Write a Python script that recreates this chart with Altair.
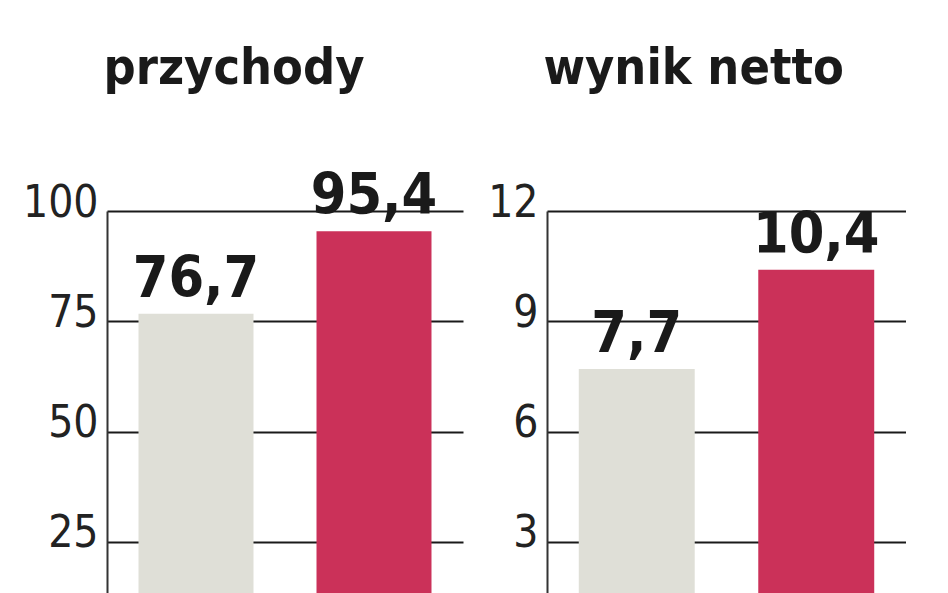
import altair as alt
import pandas as pd

# --- data ---
panel_titles = ["przychody", "wynik netto"]
periods = ["poprzednio", "obecnie"]
przychody = [76.7, 95.4]
wynik_netto = [7.7, 10.4]
ticks_left = [25, 50, 75, 100]
ticks_right = [3, 6, 9, 12]
domain_left = [13.2, 100]
domain_right = [1.58, 12]

GREY = "#dfdfd7"
RED = "#cb3159"
INK = "#1a1a1a"
FONT = "DejaVu Sans Condensed, Liberation Sans Narrow, sans-serif"


def fmt(v):
    return f"{v:.1f}".replace(".", ",")


def panel(title, values, ticks, domain, width):
    df = pd.DataFrame({
        "okres": periods,
        "wartosc": values,
        "etykieta": [fmt(v) for v in values],
    })
    x_axis = alt.Axis(
        orient="top", labels=False, ticks=False, domain=False, grid=False,
        title=title, titleFont=FONT, titleFontSize=50, titleFontWeight="bold",
        titleColor=INK, titleAlign="left", titleBaseline="alphabetic",
        titleX=-4, titleY=-128, titleAnchor="start",
    )
    base = alt.Chart(df).encode(
        x=alt.X("okres:N", sort=periods, axis=x_axis,
                scale=alt.Scale(paddingInner=0.354, paddingOuter=0.177)),
    )
    y_axis = alt.Axis(
        values=ticks, title=None, grid=True, gridColor=INK, gridWidth=2,
        ticks=False, domain=True, domainColor="#333333", domainWidth=2,
        labelFont=FONT, labelFontSize=44, labelColor="#222222",
        labelPadding=9, labelBaseline="alphabetic", labelOffset=5,
    )
    bars = base.mark_bar(clip=True).encode(
        y=alt.Y("wartosc:Q", axis=y_axis,
                scale=alt.Scale(domain=domain, zero=False, nice=False)),
        color=alt.Color("okres:N", legend=None,
                        scale=alt.Scale(domain=periods, range=[GREY, RED])),
    )
    labels = base.mark_text(
        dy=-17, baseline="alphabetic", font=FONT, fontWeight="bold",
        fontSize=57, color=INK,
    ).encode(
        y=alt.Y("wartosc:Q", scale=alt.Scale(domain=domain, zero=False, nice=False)),
        text="etykieta:N",
    )
    return alt.layer(bars, labels).properties(width=width, height=383)


left = panel(panel_titles[0], przychody, ticks_left, domain_left, 356)
right = panel(panel_titles[1], wynik_netto, ticks_right, domain_right, 359)

chart = alt.hconcat(left, right, spacing=24).properties(
    padding={"left": 14, "top": 35, "right": 0, "bottom": 0},
    background="white",
).configure_view(stroke=None)

chart.save("out.html", embed_options={"renderer": "svg", "actions": False})
